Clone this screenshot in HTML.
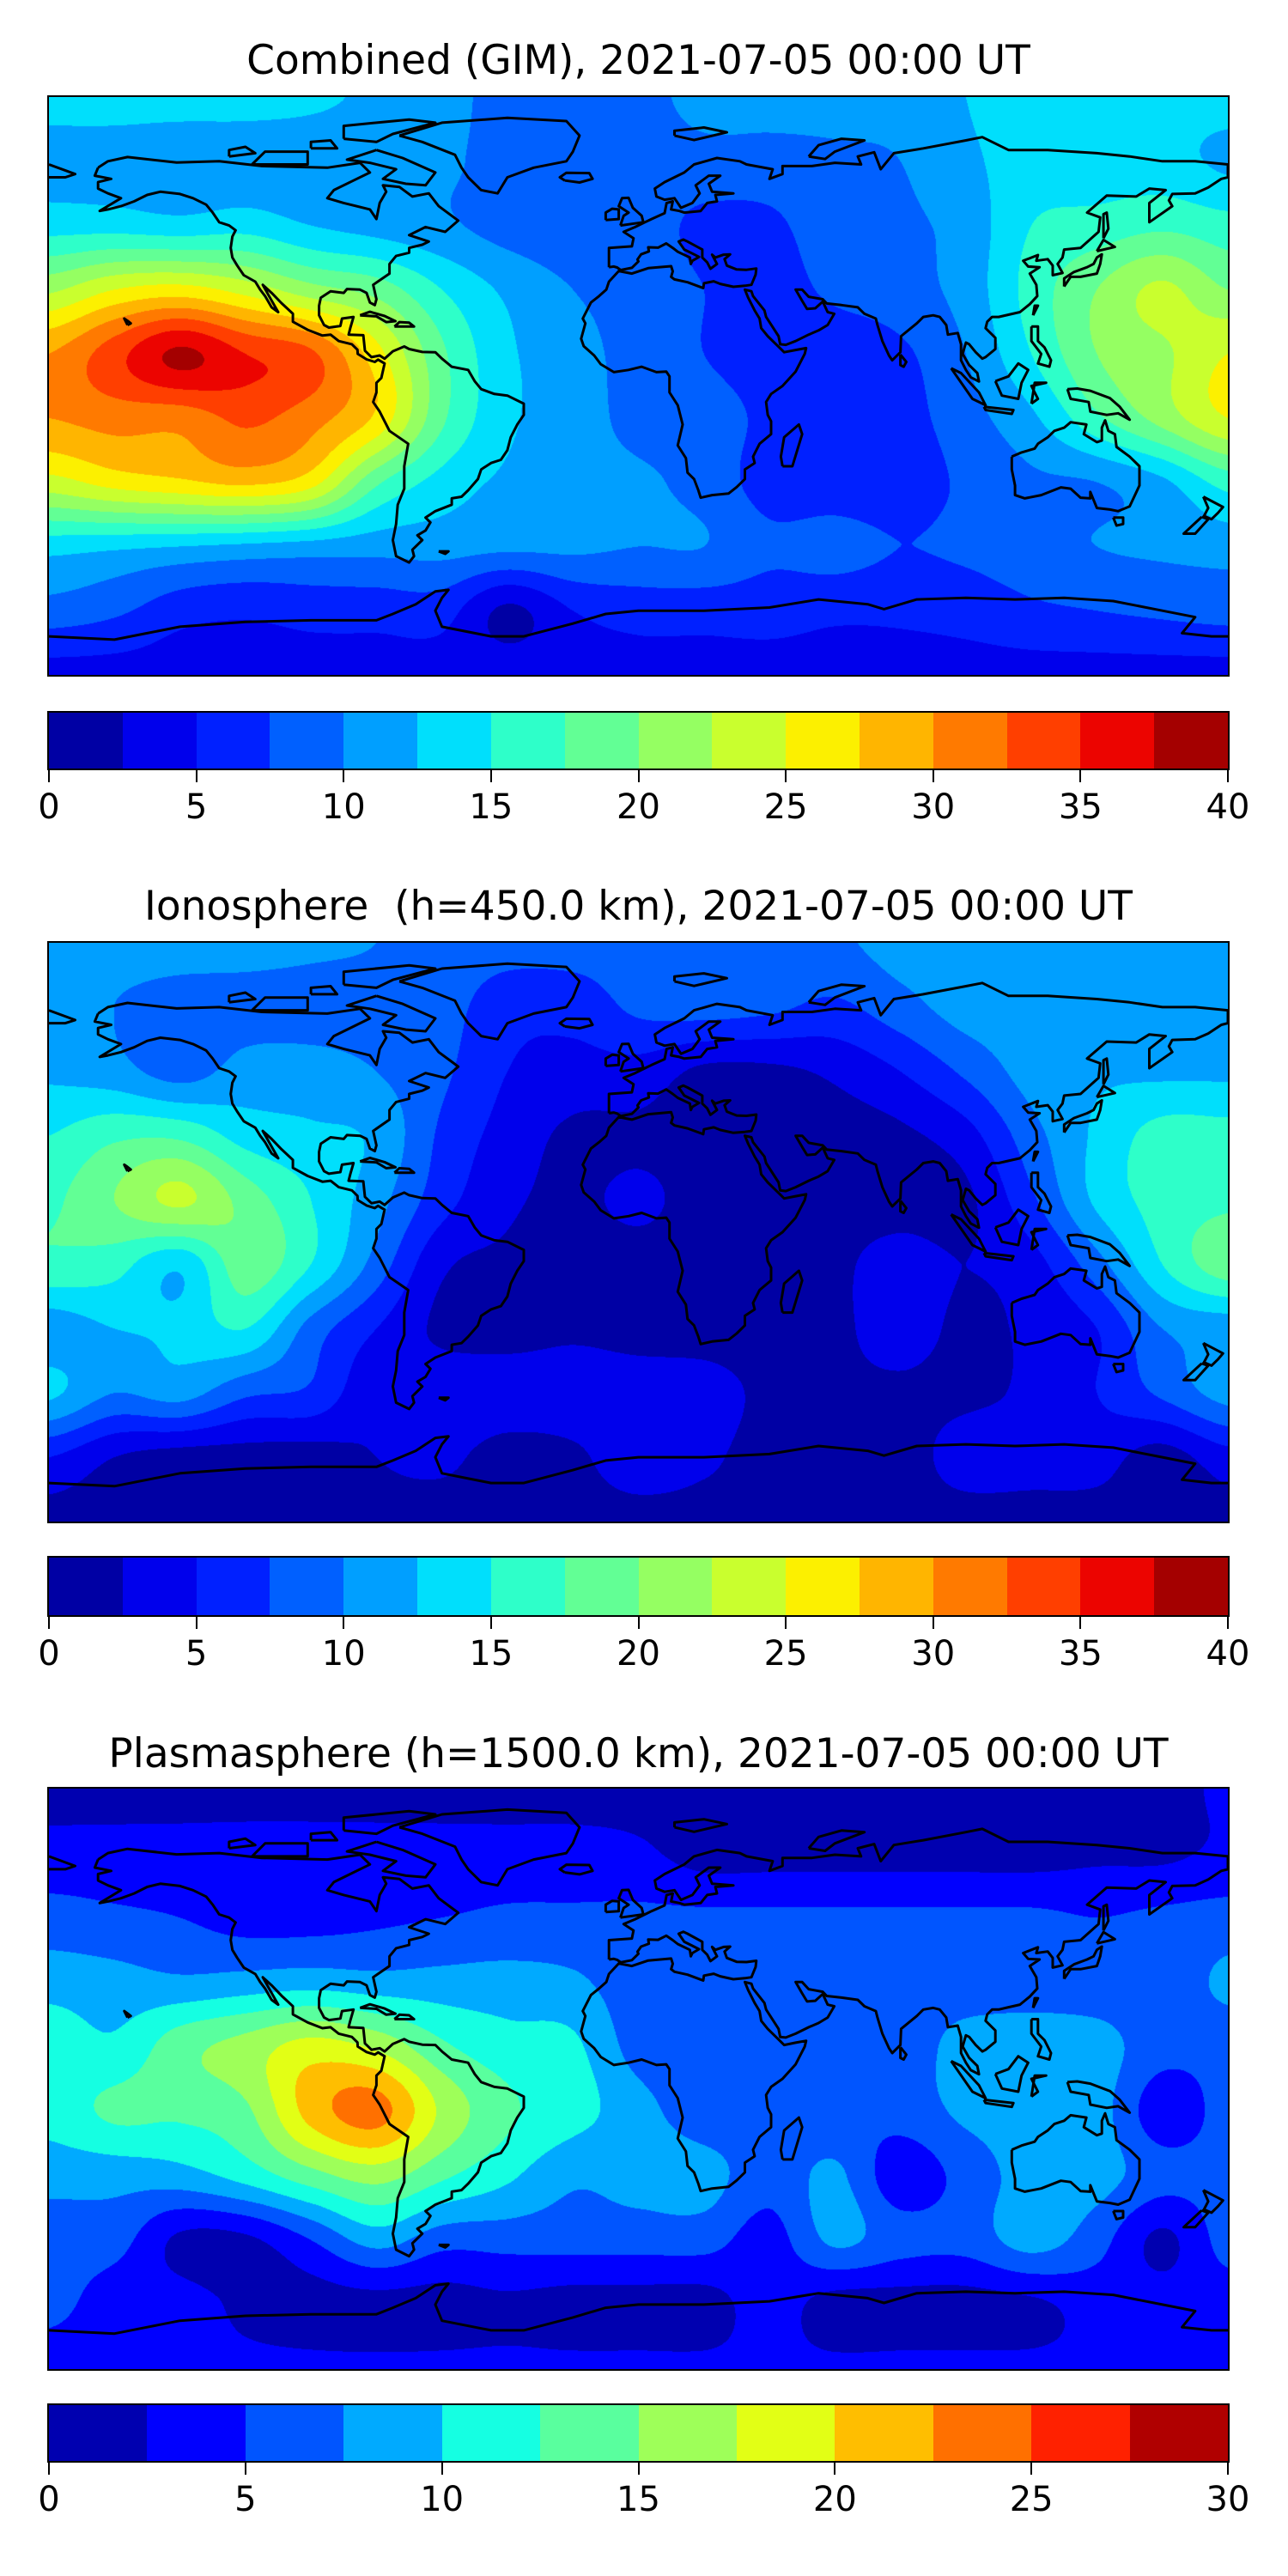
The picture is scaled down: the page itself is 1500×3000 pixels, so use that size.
<!DOCTYPE html>
<html><head><meta charset="utf-8">
<style>
html,body{margin:0;padding:0;background:#fff;}
body{width:1500px;height:3000px;position:relative;overflow:hidden;font-family:"DejaVu Sans","Liberation Sans",sans-serif;}
.title{position:absolute;left:57px;width:1373px;text-align:center;font-size:47px;line-height:56px;color:#000;white-space:nowrap;}
.map{position:absolute;left:57px;width:1373px;box-sizing:border-box;}
.map canvas,.map svg{position:absolute;left:0;top:0;}
.frame{position:absolute;left:55px;width:1377px;border:2px solid #000;box-sizing:border-box;pointer-events:none;}
.cbar{position:absolute;left:57px;width:1373px;}
.tick{position:absolute;width:2px;height:14px;background:#000;}
.tlab{position:absolute;font-size:40px;line-height:46px;width:120px;text-align:center;margin-left:-60px;}
</style></head>
<body>
<div class="title" style="top:43px">Combined (GIM), 2021-07-05 00:00 UT</div>
<div class="map" id="m0" style="top:113px;height:673px"></div>
<div class="frame" style="top:111px;height:677px"></div>
<div class="cbar" id="c0" style="top:830px;height:65px"></div>

<div class="title" style="top:1028px">Ionosphere &nbsp;(h=450.0 km), 2021-07-05 00:00 UT</div>
<div class="map" id="m1" style="top:1098px;height:674px"></div>
<div class="frame" style="top:1096px;height:678px"></div>
<div class="cbar" id="c1" style="top:1814px;height:67px"></div>

<div class="title" style="top:2015px">Plasmasphere (h=1500.0 km), 2021-07-05 00:00 UT</div>
<div class="map" id="m2" style="top:2083px;height:676px"></div>
<div class="frame" style="top:2081px;height:680px"></div>
<div class="cbar" id="c2" style="top:2801px;height:65px"></div>

<script>
// grid longitudes / latitudes of the value tables
const lons = [-180,-160,-140,-120,-100,-80,-60,-40,-20,0,20,40,60,80,100,120,140,160,180];
const lats = [90,70,50,30,10,-10,-30,-50,-70,-90];

// Combined TEC (TECU), rows = lats
const combined = [
[13.5,13.5,13.5,13.5,13,12,11,9,9,9,11,11,11,11,12.5,13.5,13.5,13.5,13.5],
[11.5,11.5,11,11,11,11,10.5,9,8.5,8.5,9,9,9.5,10,12,13.5,13.5,13.5,12],
[14,14,13.5,14,12.5,11.5,10.5,9,8.5,8.5,7,7,9,9.5,11,15,16,17,16],
[22,25,26,24,21,19,15,12,10,9,7.5,6.5,8,9,11,16,20,23,20],
[30,34,38,35,33,26,18,13,11,9,7.5,6.5,6,7,10,15,20,22,25],
[30,31,31,33,31,27,18,13,11.5,9,8.5,7,6,6.5,9,12,17,21,25],
[24,26,27,28,26,18,14,12,11,10.5,9,6.5,6,6,8,9.5,10,12,16],
[13.5,13,12.5,12,11.5,11,11,10.5,10.5,10,10,8,8.5,7.5,8,9,10,10.5,11],
[9,8,6,5.5,6,6,6,2,5,6,6,6,5.5,5.5,6,7,7.5,8,8.5],
[4,4,4,4,4,4,4,4,4,4,4,4,4,4,4,4,4,4,4]];

// Ionosphere TEC (TECU)
const ionosphere = [
[11,11,11,11,10.5,10,9,8.5,8.5,8.5,8.5,9,9.5,11,11,11,11,11,11],
[11,10,9,9,9,9,8.5,6,6,8,8.5,8,7,9,11,11,11,11,11],
[12,11,9,11,11,10,8,5,4,4,2,2,3,5,8,11,12,12,12],
[15,17,17,14,13,12,7,4,2,2,1.5,1.5,1.5,2,4,9,13,16,16],
[17,20,23,19,15,11,6,3,2,3,1.5,1.5,1.5,1.5,2,7,13,16,17],
[17,16,13,19,15,9,3,2,1.5,1.5,1.5,1.5,2,3.5,2.5,4,9,15,19],
[11,12.5,13,15,9,5,2,1.5,2,1.5,1.5,1.5,2,3.5,2,3,5,10,11],
[13,10,11,8,7,3,4,4,4,4,3.5,2,2,2,2,3,5,8,11],
[5,2.5,1.5,1.5,1.5,2.5,3,1.5,2,4,3,1.5,1.5,1.5,3.5,3.5,3.5,1.5,4],
[1.5,1.5,1.5,1.5,1.5,1.5,1.5,1.5,1.5,1.5,1.5,1.5,1.5,1.5,1.5,1.5,1.5,1.5,1.5]];

// Plasmasphere TEC (TECU)
const plasmasphere = [
[1.5,1.5,1.5,1.5,1.5,1.5,1.5,1.5,1.5,1.5,1.5,1.5,1.5,1.5,1.5,1.5,1.5,1.5,3],
[3.5,3.5,3.5,3.5,3.5,3.5,3.5,3.5,3.5,3,1.5,1.5,1.5,1.5,1.5,1.5,2,2,3],
[6,5.5,5,4,4,4.5,5,5.5,5.5,5.5,5.5,5.5,5.5,5.5,5.5,5.5,5,5.5,6],
[9,8.5,8,8.5,9,8.5,8.5,8.5,8,6,6,6,6,6,6,6.5,6,6,8],
[11.5,10.5,14,16,18.5,17,13,11,10.5,6.5,6,6,6,6,8.5,8.5,8.5,6,6],
[11,13,13,14.5,21,23.5,17,13,11,8.5,6,6,5.5,6,8,8.5,8.5,3.5,6],
[8.5,8.5,9,11,14,16,13,10.5,8,8.5,8.5,6,8,3.5,6,8.5,8.5,6,6],
[6,6,2,2,5,8.5,6,6,6,6,6,4,8,6,6,8.5,6,2,6],
[6,3.5,3.5,2,1.5,1.5,1.5,2,1.5,1.5,1.5,3.5,1.5,1.5,1.5,2,3.5,3.5,3.5],
[3,3,3,3,3,3,3,3,3,3,3,3,3,3,3,3,3,3,3]];

const ticks40 = [0,5,10,15,20,25,30,35,40];
const ticks30 = [0,5,10,15,20,25,30];

// simplified coastlines [lon,lat]
const coasts = [
[[-165,68],[-162,70],[-156,71.3],[-141,69.6],[-128,70],[-115,68.5],[-95,68],[-85,69.5],[-82,66.5],[-87,64],[-93,61],[-95,58.5],[-90,57],[-82,55],[-80,52],[-79,57],[-77,60.5],[-78,62.5],[-73,62],[-69,59],[-64,60],[-61,56],[-57,53],[-55,51.5],[-59,48],[-65,49.5],[-70,47],[-64,45],[-66,44],[-70,43],[-70,41.5],[-74,40.5],[-76,38],[-76,35],[-81,31.5],[-80,27],[-80.5,25.2],[-82,26],[-83,29],[-85,30],[-89,30.2],[-90,29],[-94,29.5],[-97,27.5],[-97.5,25],[-97.5,22],[-96,19],[-94.5,18.2],[-91,18.7],[-90.5,21],[-87,21.5],[-88,18],[-88.5,16],[-84,15.8],[-83.5,11],[-81.5,9],[-79,9.5],[-77.5,8.5],[-75,10.8],[-71.5,12.3],[-70,11.5],[-66,10.6],[-62,10.5],[-60,8.5],[-57,6],[-52,5],[-50,1.5],[-48,-1],[-44,-2.5],[-40,-3],[-35,-5.5],[-35,-9],[-37,-12],[-39,-16],[-40,-20],[-42,-23],[-45,-24],[-48,-26],[-49,-29],[-52,-32.5],[-54,-34.5],[-57,-35],[-57,-37],[-62,-39],[-65,-41],[-63.5,-42.5],[-65,-45],[-67.5,-46.5],[-66,-48],[-69,-51],[-68.5,-53],[-70,-55],[-74,-53],[-75,-48],[-74,-43],[-73.5,-37],[-71.5,-32],[-71.5,-25],[-70.3,-18],[-76,-14],[-79,-8],[-81,-5],[-80,-2],[-80,1],[-78.5,2.5],[-77.5,7],[-79.5,8.2],[-80.5,7.5],[-83,8.3],[-85.7,10],[-85.8,11.3],[-87.5,13],[-91.5,14],[-94,16],[-96.5,15.7],[-101,17.5],[-105.5,20],[-105.5,22.5],[-109,25.8],[-112,29],[-114.7,31.5],[-112.5,27.5],[-110,23],[-112,24.5],[-114,28],[-115.5,30],[-117,32.5],[-120.5,34.5],[-122.5,37.5],[-124,40],[-124.5,43],[-124,46.5],[-123,48.5],[-125,50],[-128,51],[-130,54],[-132,56.5],[-136,58.5],[-140,59.8],[-146,60.5],[-150,59.5],[-154,57.5],[-158,56],[-162,55],[-164.5,54.5],[-158,58.5],[-162,60],[-165,61.5],[-165,63.5],[-161,64.5],[-166,65.5],[-165,68]],
[[-73,78],[-60,82],[-40,83.5],[-22,82.5],[-18,78],[-20,73],[-22,70],[-32,68],[-40,65],[-43,60],[-48,61],[-52,65],[-54,68],[-56,72],[-66,76],[-73,78]],
[[-9,37],[-9,43],[-2,43.5],[-1.5,46],[-4.5,48],[-1,49.5],[2,51],[4,52],[8,53.8],[8.6,57],[10.5,57.5],[10,55],[12.5,54.5],[14,54],[19,54.5],[21,57],[24,57.5],[23.5,59.5],[29,60],[22.5,60.5],[21.5,63],[25,65.5],[21.5,65.5],[17.5,62.5],[18.7,60],[16.5,57],[13,55.5],[11,58.5],[8,58],[5.5,59],[5,61.5],[8,63.5],[14,66.5],[17,69],[24,71],[31,70],[33,69],[41,67.5],[40,64.5],[44,66],[44,68.5],[53,68.5],[60,69.5],[68,69],[67,71.5],[72,72.8],[74,67.5],[78,72.5],[87,74],[100,76.5],[105,77.5],[113,73.5],[125,73.5],[140,72.5],[150,71.5],[160,70],[170,70],[180,69],[180,65],[178,64.5],[174,61.8],[170,60],[163,59.8],[162,57.8],[163,56],[156,51],[156,57],[161,61],[156,61.5],[152,59],[143,59.3],[137,54],[141,52.5],[140.5,48],[135,43],[130,42.5],[129.5,40],[128,38],[129.5,35.2],[126.5,34.5],[126.5,37.5],[125,39.5],[121.5,39],[122,40.8],[117.5,39],[119,37.2],[122.5,37],[119.5,35],[121.5,31.5],[121.8,28],[119.5,25.5],[116.5,23],[113,22.2],[110,21.5],[108,21.5],[106.5,20],[106,18],[109,15],[109,11.5],[106,9],[105,8.5],[103,10.5],[101,13],[100,13.5],[99,10],[101,6.5],[103.5,4],[104,1.4],[101.5,2.7],[100,5],[98.5,8],[98.5,13],[97.5,16.5],[94.5,16],[94,19],[92,21.5],[90,22],[87,21.5],[85,19.5],[80.2,15.5],[80,10.5],[77.5,8],[76.5,9.5],[74.5,14],[73,19],[72.5,21],[69,22.5],[67,24.5],[62,25.2],[57.5,25.7],[56.3,27],[52,27.8],[50,30],[48,30],[50,26.5],[51.5,24],[54,24.2],[56.3,26.3],[57.8,23],[59.8,22.5],[57.8,19],[55,17.3],[52,16],[48,14],[45,12.8],[43.3,13],[42.8,15.5],[39,21.5],[38.5,23.5],[35,28],[34.5,29.5],[32.5,30],[33.5,27.5],[35.5,23.5],[37,21],[37.5,18],[39.5,15.5],[43,12],[44.5,10.5],[48,11.2],[51.2,11.8],[50.8,10],[48,4.5],[44,0],[40.5,-2.5],[39,-5],[39.5,-9],[40.5,-11],[40.5,-15],[37,-18],[35,-22],[35.5,-24],[32.5,-26],[32.5,-29],[30,-31.5],[27.5,-33.5],[22.5,-34],[19,-34.8],[18.3,-32.5],[17,-29],[15,-27],[14.5,-22.5],[12,-18.5],[13.5,-12],[12,-6],[9.5,-2],[9.5,3],[8.5,4.5],[5.5,4.3],[1,6],[-3,5],[-7.5,4.3],[-11.5,6.8],[-13.5,9.5],[-16.7,12.4],[-17.5,14.7],[-16.2,19.5],[-17,21],[-14.5,26],[-12,28],[-9.8,30],[-9,32.5],[-6,35.8],[-2,35],[3,36.7],[10,37.3],[10.5,35.7],[10,34],[11,33.2],[15,32.3],[19.8,30.5],[20,32],[23,32.6],[25,31.8],[29,30.9],[32.5,31.2],[34.5,31.5],[35.8,34.7],[36,36.6],[33,36.2],[30,36.3],[27,37.5],[26.3,39.5],[28,41],[26,40.9],[23.5,40],[22.5,40.9],[24,38],[22,36.5],[21,38.5],[19.5,40],[19.5,42.5],[15,45],[13.7,45.6],[12.3,45],[14,42.5],[16,41.5],[18.5,40.2],[16.5,39],[16,38],[15.7,40],[12,41.8],[10.5,43],[8.5,44.4],[6,43.1],[3,43.2],[3.2,41.9],[0.8,41],[-0.3,39.4],[0,38.8],[-2,36.8],[-5.4,36.1],[-6.5,36.9],[-7.5,37.2],[-9,37]],
[[-180,69],[-172,66],[-175,65],[-180,65]],
[[114,-22],[114,-26],[115,-31],[115,-34],[118,-35],[123,-34],[129,-31.6],[132,-32],[135,-34.8],[138,-35],[138,-33],[140,-38],[144,-38.5],[146.5,-39],[150,-37.5],[153,-31],[153,-25],[150,-22],[146,-19],[145.5,-15],[143.5,-14],[142.5,-10.7],[141.5,-13],[141.5,-17],[140,-17.5],[136,-15],[136.8,-12],[132,-11.3],[130,-13],[127,-14],[125,-16],[122,-18],[121,-19.5],[117,-20.7],[114,-22]],
[[-180,-78],[-160,-79],[-150,-77],[-140,-75],[-120,-73.5],[-100,-73],[-80,-73],[-75,-71],[-68,-68],[-62,-64],[-58,-63.5],[-60,-66],[-62,-70],[-60,-75],[-45,-78],[-35,-78],[-20,-74],[-10,-71],[0,-70],[20,-70],[40,-69],[55,-66.5],[70,-68],[75,-69.5],[85,-66.5],[100,-66],[115,-66.5],[130,-66],[145,-67],[160,-70],[170,-72],[166,-77],[175,-78],[180,-78]],
[[-5.5,50],[1.5,51],[1,53],[-1.7,55.5],[-3,58.6],[-5,58.5],[-6,56],[-3,54],[-4.5,53],[-5,51.5],[-5.5,50]],
[[-10,51.7],[-6,52],[-6,55],[-8,55.2],[-10,54],[-10,51.7]],
[[130,31],[132,34],[135,34],[140,35],[141,38],[141.5,41],[140,40],[139,38],[137,37],[133,35.5],[130,33.5],[130,31]],
[[140,42],[145.5,43.3],[142,45.5],[140,42]],
[[44,-25],[47,-25],[50,-15],[49,-12],[44.5,-16],[43.5,-22],[44,-25]],
[[172.5,-34.5],[178.5,-37.7],[177,-39.5],[175,-41.5],[172.7,-40.5],[174,-38],[172.5,-34.5]],
[[172,-40.8],[174,-41.5],[170,-46],[166.5,-46],[172,-40.8]],
[[95.5,5.5],[98.5,4],[104,-2],[106,-6],[102,-4],[95.5,5.5]],
[[109,1.5],[111,-3],[116,-4],[117,1],[119,5],[116,7],[113,3],[109,1.5]],
[[105.5,-6.5],[114.5,-7.5],[114,-8.7],[106,-7.5],[105.5,-6.5]],
[[131,-1],[134,-0.8],[138,-1.5],[144,-3.8],[147,-6.5],[150,-10.5],[146.5,-8.5],[143,-9],[138,-8],[137.5,-5],[132,-4],[131,-1]],
[[120,18.5],[122,18.5],[122,14],[124,12],[126,8],[125.5,6],[122,7],[123,10],[120,14],[120,18.5]],
[[120,-5.5],[121,1],[124.5,1],[120,0],[122,-4],[120,-5.5]],
[[80,9.8],[81.8,7.5],[81,6],[80,6.5],[80,9.8]],
[[-85,22],[-82,23.1],[-77.5,21.8],[-74.2,20.2],[-77,19.9],[-80,21.7],[-85,22]],
[[-74.5,18.5],[-68.5,18.5],[-70,19.7],[-73,19.9],[-74.5,18.5]],
[[-22.5,64],[-18,63.4],[-14,64.5],[-15,66.3],[-22,66.4],[-24,65],[-22.5,64]],
[[-80,73.5],[-72,71],[-62,66.5],[-65,62.5],[-71,63],[-78,64.5],[-74,67.5],[-82,69.5],[-89,70.5],[-80,73.5]],
[[-90,77],[-80,76],[-75,78.5],[-62,82],[-70,83],[-90,81],[-90,77]],
[[-118,69],[-101,69],[-101,73],[-114,73],[-118,69]],
[[-125,71.5],[-117,72.5],[-120,74.5],[-125,73.5],[-125,71.5]],
[[-100,74],[-92,74],[-94,76.5],[-100,76],[-100,74]],
[[11,78],[17,76.6],[27,79],[20,80.5],[11,79.5],[11,78]],
[[52,71.5],[57,70.7],[60,73],[69,76.5],[62,77],[55,75],[52,71.5]],
[[142,46],[143.5,49],[143,54],[142,53.5],[142,46]],
[[145,-41],[148,-41],[148,-43],[146,-43.5],[145,-41]],
[[-61,-51.5],[-58,-51.5],[-59,-52.3],[-61,-51.5]],
[[-156,19],[-155,19.5],[-156,20.3],[-157,21],[-156,19]],
[[120.5,22],[122,25],[121,25],[120.5,22]]
];

function jet(t){
  function seg(pts){for(let i=1;i<pts.length;i++){if(t<=pts[i][0]){const a=pts[i-1],b=pts[i];return a[1]+(b[1]-a[1])*(t-a[0])/(b[0]-a[0]);}}return pts[pts.length-1][1];}
  const r=seg([[0,0],[0.35,0],[0.66,1],[0.89,1],[1,0.5]]);
  const g=seg([[0,0],[0.125,0],[0.375,1],[0.64,1],[0.91,0],[1,0]]);
  const b=seg([[0,0.5],[0.11,1],[0.34,1],[0.65,0],[1,0]]);
  return [Math.round(r*255),Math.round(g*255),Math.round(b*255)];
}
function cr(p0,p1,p2,p3,t){return 0.5*((2*p1)+(-p0+p2)*t+(2*p0-5*p1+4*p2-p3)*t*t+(-p0+3*p1-3*p2+p3)*t*t*t);}

function drawMap(id,name,grid,vmax){
  const host=document.getElementById(id);
  const W=host.clientWidth,H=host.clientHeight;
  const nb=Math.round(vmax/2.5);
  const cols=[];for(let i=0;i<nb;i++)cols.push(jet((i+0.5)/nb));
  const cv=document.createElement('canvas');cv.width=W;cv.height=H;
  
  
  host.appendChild(cv);
  const ctx=cv.getContext('2d');const img=ctx.createImageData(W,H);
  const nr=grid.length,nc=grid[0].length;
  const cl=(a,n)=>Math.max(0,Math.min(n-1,a));
  const rowI=grid.map(row=>{const out=new Float32Array(W);
    for(let x=0;x<W;x++){const lon=-180+360*(x+0.5)/W;const f=(lon-lons[0])/(lons[1]-lons[0]);const i=Math.floor(f);const t=f-i;
      out[x]=cr(row[cl(i-1,nc)],row[cl(i,nc)],row[cl(i+1,nc)],row[cl(i+2,nc)],t);}return out;});
  for(let y=0;y<H;y++){const lat=90-180*(y+0.5)/H;const f=(lats[0]-lat)/(lats[0]-lats[1]);const j=Math.floor(f);const t=f-j;
    const r0=rowI[cl(j-1,nr)],r1=rowI[cl(j,nr)],r2=rowI[cl(j+1,nr)],r3=rowI[cl(j+2,nr)];
    for(let x=0;x<W;x++){let v=cr(r0[x],r1[x],r2[x],r3[x],t);let k=Math.floor(v/2.5);k=Math.max(0,Math.min(nb-1,k));const c=cols[k];const o=(y*W+x)*4;
      img.data[o]=c[0];img.data[o+1]=c[1];img.data[o+2]=c[2];img.data[o+3]=255;}}
  ctx.putImageData(img,0,0);
  const NS='http://www.w3.org/2000/svg';
  const svg=document.createElementNS(NS,'svg');svg.setAttribute('width',W);svg.setAttribute('height',H);
  
  
  coasts.forEach(poly=>{let d='';poly.forEach((p,i)=>{const px=(p[0]+180)/360*W,py=(90-p[1])/180*H;d+=(i?'L':'M')+px.toFixed(1)+','+py.toFixed(1);});
    const pa=document.createElementNS(NS,'path');pa.setAttribute('d',d);pa.setAttribute('fill','none');pa.setAttribute('stroke','#000');pa.setAttribute('stroke-width','3');pa.setAttribute('stroke-linejoin','round');
    
    
    svg.appendChild(pa);});
  host.appendChild(svg);
}
function drawBar(id,name,vmax,ticks){
  const host=document.getElementById(id);const W=host.clientWidth,H=host.clientHeight;const nb=Math.round(vmax/2.5);
  for(let i=0;i<nb;i++){const c=jet((i+0.5)/nb);const d=document.createElement('div');
    d.style.cssText='position:absolute;top:0;height:'+H+'px;left:'+(i*W/nb)+'px;width:'+(W/nb+0.6)+'px;background:rgb('+c+')';
    
    
    host.appendChild(d);}
  const fr=document.createElement('div');fr.style.cssText='position:absolute;left:-2px;top:-2px;width:'+(W+4)+'px;height:'+(H+4)+'px;border:2px solid #000;box-sizing:border-box';
  
  
  host.appendChild(fr);
  ticks.forEach(v=>{const x=v/vmax*W;const t=document.createElement('div');t.className='tick';t.style.left=(x-1)+'px';t.style.top=(H+2)+'px';
    
    
    host.appendChild(t);
    const l=document.createElement('div');l.className='tlab';l.style.left=x+'px';l.style.top=(H+22)+'px';l.textContent=v;
    
    
    host.appendChild(l);});
}
drawMap('m0','combined',combined,40);
drawMap('m1','ionosphere',ionosphere,40);
drawMap('m2','plasmasphere',plasmasphere,30);
drawBar('c0','combined-colorbar',40,ticks40);
drawBar('c1','ionosphere-colorbar',40,ticks40);
drawBar('c2','plasmasphere-colorbar',30,ticks30);
</script>
</body></html>
